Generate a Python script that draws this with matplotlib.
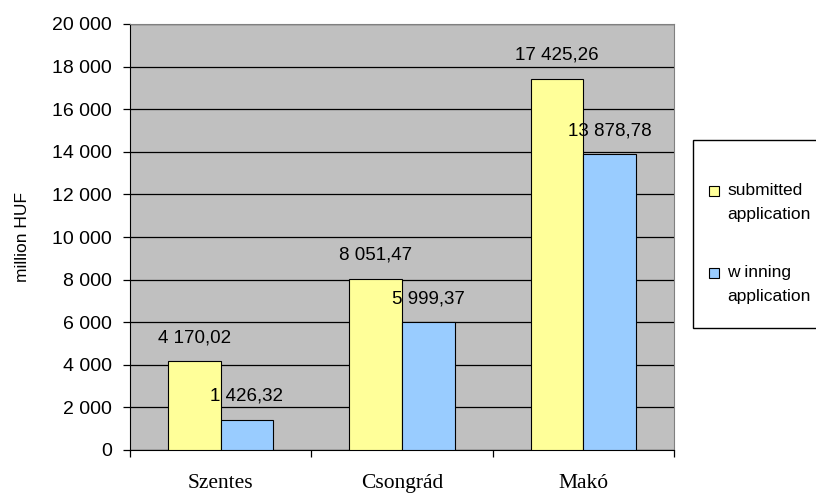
import matplotlib.pyplot as plt
import numpy as np
from matplotlib.patches import Rectangle

# adatok
towns = ["Szentes", "Csongrád", "Makó"]
submitted = [4170.02, 8051.47, 17425.26]
winning = [1426.32, 5999.37, 13878.78]
series_names = ["submitted\napplication", "w inning\napplication"]
series_colors = ["#FFFF99", "#99CCFF"]
y_ticks = [0, 2000, 4000, 6000, 8000, 10000, 12000, 14000, 16000, 18000, 20000]


def hu_num(v, dec=2):
	"""magyar formátum: szóköz ezres, vessző tizedes"""
	s = f"{v:,.{dec}f}"
	return s.replace(",", " ").replace(".", ",")


plt.rcParams['font.family'] = ['Liberation Sans', 'DejaVu Sans']

fig = plt.figure(figsize=(8.16, 4.93), dpi=100)
ax = fig.add_axes([130 / 816, 1 - 450 / 493, 544 / 816, 426 / 493])
ax.set_facecolor("#C0C0C0")

x = np.arange(len(towns))
w = 0.29
for i, vals in enumerate([submitted, winning]):
	pos = x - w / 2 + i * w
	bars = ax.bar(pos, vals, width=w, color=series_colors[i], edgecolor="black", linewidth=0.8, zorder=3)
	for b, v in zip(bars, vals):
		ax.annotate(hu_num(v), (b.get_x() + b.get_width() / 2, v), xytext=(0, 17),
					textcoords="offset points", ha="center", va="center", fontsize=13.5, zorder=4)

ax.set_xlim(-0.5, len(towns) - 0.5)
ax.set_ylim(0, 20000)
ax.set_yticks(y_ticks)
ax.set_yticklabels([hu_num(t, 0) for t in y_ticks], fontsize=14)
ax.yaxis.grid(True, color="black", linewidth=0.9, zorder=1)
ax.set_axisbelow(True)

ax.set_xticks(x)
ax.set_xticklabels(towns, fontfamily="Liberation Serif", fontsize=15.5)
ax.set_xticks(np.arange(len(towns) + 1) - 0.5, minor=True)
ax.tick_params(axis="x", which="major", length=0, pad=17)
ax.tick_params(axis="x", which="minor", length=5, width=0.9)
ax.tick_params(axis="y", length=5, width=0.9, pad=8)

ax.set_ylabel("million HUF", fontsize=12.5)
ax.yaxis.set_label_coords(-100 / 544, 0.5)

for side in ["left", "bottom"]:
	ax.spines[side].set_color("black")
for side in ["top", "right"]:
	ax.spines[side].set_color("#808080")

# jelmagyarázat kézzel
fig.patches.append(Rectangle((693 / 816, 1 - 328 / 493), 130 / 816, 188 / 493, transform=fig.transFigure,
							 facecolor="white", edgecolor="black", linewidth=1, clip_on=False))
line_y = [[191, 215], [273, 296]]
for i, name in enumerate(series_names):
	hy = line_y[i][0]
	fig.patches.append(Rectangle((709 / 816, 1 - (hy + 5) / 493), 10 / 816, 10 / 493, transform=fig.transFigure,
								 facecolor=series_colors[i], edgecolor="black", linewidth=0.8))
	for line, ly in zip(name.split("\n"), line_y[i]):
		fig.text(727 / 816, 1 - ly / 493, line, fontsize=12.5, ha="left", va="center")

fig.savefig("out.png", dpi=100)
